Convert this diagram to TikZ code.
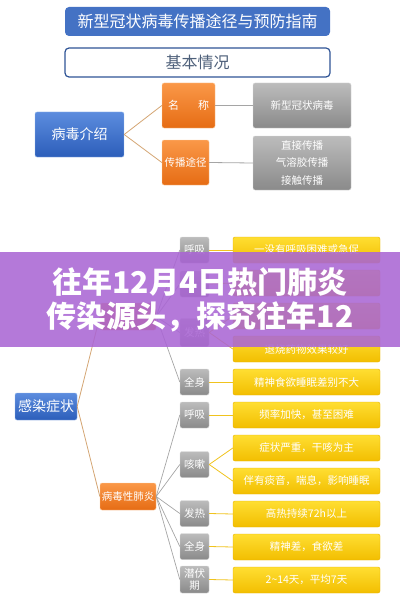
\documentclass[tikz,border=0pt]{standalone}
\usepackage{fontspec}
\setmainfont{Noto Sans CJK SC}
\definecolor{blue_top}{RGB}{92,140,222}
\definecolor{blue_bot}{RGB}{44,94,186}
\definecolor{blue_edge}{RGB}{150,185,235}
\definecolor{head_blue}{RGB}{68,114,196}
\definecolor{head_edge}{RGB}{47,84,150}
\definecolor{head_text}{RGB}{78,96,122}
\definecolor{orange_top}{RGB}{250,152,72}
\definecolor{orange_bot}{RGB}{230,108,20}
\definecolor{orange_edge}{RGB}{252,205,160}
\definecolor{gray_top}{RGB}{188,188,188}
\definecolor{gray_bot}{RGB}{138,138,138}
\definecolor{gray_edge}{RGB}{215,215,215}
\definecolor{yellow_top}{RGB}{255,222,50}
\definecolor{yellow_bot}{RGB}{242,190,0}
\definecolor{yellow_edge}{RGB}{230,178,0}
\definecolor{tan_line}{RGB}{212,165,115}
\definecolor{gray_line}{RGB}{165,165,165}
\definecolor{gold_line}{RGB}{240,195,30}
\definecolor{band}{RGB}{170,102,212}

\begin{document}
\begin{tikzpicture}[x=1pt,y=-1pt,
	head_node/.style={rectangle,rounded corners=4pt,minimum width=265,minimum height=29,inner sep=0pt,font=\fontsize{16}{18}\selectfont},
	blue_node/.style={rectangle,rounded corners=2pt,draw=blue_edge,top color=blue_top,bottom color=blue_bot,text=white,inner sep=0pt,font=\fontsize{14}{16}\selectfont},
	orange_node/.style={rectangle,rounded corners=2pt,draw=orange_edge,top color=orange_top,bottom color=orange_bot,text=white,inner sep=0pt,minimum width=56,minimum height=27,font=\fontsize{10.5}{12}\selectfont},
	gray_node/.style={rectangle,rounded corners=2pt,draw=gray_edge,top color=gray_top,bottom color=gray_bot,text=white,inner sep=0pt,align=center,font=\fontsize{10.5}{13}\selectfont},
	small_node/.style={gray_node,minimum width=29,minimum height=26},
	yellow_node/.style={rectangle,rounded corners=2pt,draw=yellow_edge,top color=yellow_top,bottom color=yellow_bot,text=white,inner sep=0pt,minimum width=147,minimum height=26,font=\fontsize{10.5}{12}\selectfont}]

		\useasboundingbox (0,0) rectangle (400,599);

		\node[head_node,fill=head_blue,text=white] (1) at (197.5,21.5) {新型冠状病毒传播途径与预防指南};
		\node[head_node,draw=head_edge,line width=1.2pt,fill=white,text=head_text] (2) at (197.5,62.5) {基本情况};

		\node[blue_node,minimum width=89,minimum height=45] (3) at (79.5,134.5) {病毒介绍};
		\node[orange_node,minimum width=53,minimum height=45,font=\fontsize{11}{13}\selectfont] (4) at (188.5,105.5) {名\hspace{19pt}称};
		\node[orange_node,minimum width=47,minimum height=45] (5) at (185.5,162.5) {传播途径};
		\node[gray_node,minimum width=98,minimum height=45] (6) at (302,105.5) {新型冠状病毒};
		\node[gray_node,minimum width=98,minimum height=54,font=\fontsize{10.5}{17.5}\selectfont] (7) at (302,163) {直接传播\\气溶胶传播\\接触传播};

		\draw[tan_line,line width=0.8pt] (3.east) -- (4.west);
		\draw[tan_line,line width=0.8pt] (3.east) -- (5.west);
		\draw[gray_line,line width=0.8pt] (4.east) -- (6.west);
		\draw[gray_line,line width=0.8pt] (5.east) -- (7.west);

		\node[blue_node,minimum width=62,minimum height=27] (8) at (46,406.5) {感染症状};
		\node[orange_node] (9) at (128,316.5) {};
		\node[orange_node] (10) at (128,496.5) {病毒性肺炎};

		\node[small_node] (11) at (194.5,250) {呼吸};
		\node[small_node] (12) at (194.5,284) {};
		\node[small_node,minimum height=28] (13) at (194.5,332.5) {发热};
		\node[small_node] (14) at (194.5,382) {全身};
		\node[small_node] (15) at (194.5,415) {呼吸};
		\node[small_node] (16) at (194.5,464.5) {咳嗽};
		\node[small_node] (17) at (194.5,513.5) {发热};
		\node[small_node] (18) at (194.5,546.5) {全身};
		\node[small_node,minimum height=27,font=\fontsize{10.5}{11.5}\selectfont] (19) at (194.5,579.5) {潜伏\\期};

		\node[yellow_node] (20) at (306.5,250) {一没有呼吸困难或急促};
		\node[yellow_node] (21) at (306.5,283) {};
		\node[yellow_node] (22) at (306.5,316) {};
		\node[yellow_node] (23) at (306.5,349) {退烧药物效果较好};
		\node[yellow_node] (24) at (306.5,382) {精神食欲睡眠差别不大};
		\node[yellow_node] (25) at (306.5,415) {频率加快，甚至困难};
		\node[yellow_node] (26) at (306.5,448) {症状严重，干咳为主};
		\node[yellow_node] (27) at (306.5,481) {伴有痰音，喘息，影响睡眠};
		\node[yellow_node] (28) at (306.5,514) {高热持续72h以上};
		\node[yellow_node] (29) at (306.5,547) {精神差，食欲差};
		\node[yellow_node] (30) at (306.5,580) {2\textasciitilde14天，平均7天};

		\draw[tan_line,line width=0.8pt] (8.east) -- (9.west);
		\draw[tan_line,line width=0.8pt] (8.east) -- (10.west);
		\draw[gray_line,line width=0.7pt] (9.east) -- (11.west);
		\draw[gray_line,line width=0.7pt] (9.east) -- (12.west);
		\draw[gray_line,line width=0.7pt] (9.east) -- (13.west);
		\draw[gray_line,line width=0.7pt] (9.east) -- (14.west);
		\draw[gray_line,line width=0.7pt] (10.east) -- (15.west);
		\draw[gray_line,line width=0.7pt] (10.east) -- (16.west);
		\draw[gray_line,line width=0.7pt] (10.east) -- (17.west);
		\draw[gray_line,line width=0.7pt] (10.east) -- (18.west);
		\draw[gray_line,line width=0.7pt] (10.east) -- (19.west);
		\draw[gold_line,line width=0.8pt] (11.east) -- (20.west);
		\draw[gold_line,line width=0.8pt] (12.east) -- (21.west);
		\draw[gold_line,line width=0.8pt] (13.east) -- (22.west);
		\draw[gold_line,line width=0.8pt] (13.east) -- (23.west);
		\draw[gold_line,line width=0.8pt] (14.east) -- (24.west);
		\draw[gold_line,line width=0.8pt] (15.east) -- (25.west);
		\draw[gold_line,line width=0.8pt] (16.east) -- (26.west);
		\draw[gold_line,line width=0.8pt] (16.east) -- (27.west);
		\draw[gold_line,line width=0.8pt] (17.east) -- (28.west);
		\draw[gold_line,line width=0.8pt] (18.east) -- (29.west);
		\draw[gold_line,line width=0.8pt] (19.east) -- (30.west);

		\fill[band,opacity=0.88] (0,252) rectangle (400,347);
		\node[text=white,align=center,inner sep=0pt,font=\fontsize{30}{34}\selectfont\bfseries] (31) at (200,300) {往年12月4日热门肺炎\\传染源头，探究往年12};
\end{tikzpicture}
\end{document}
